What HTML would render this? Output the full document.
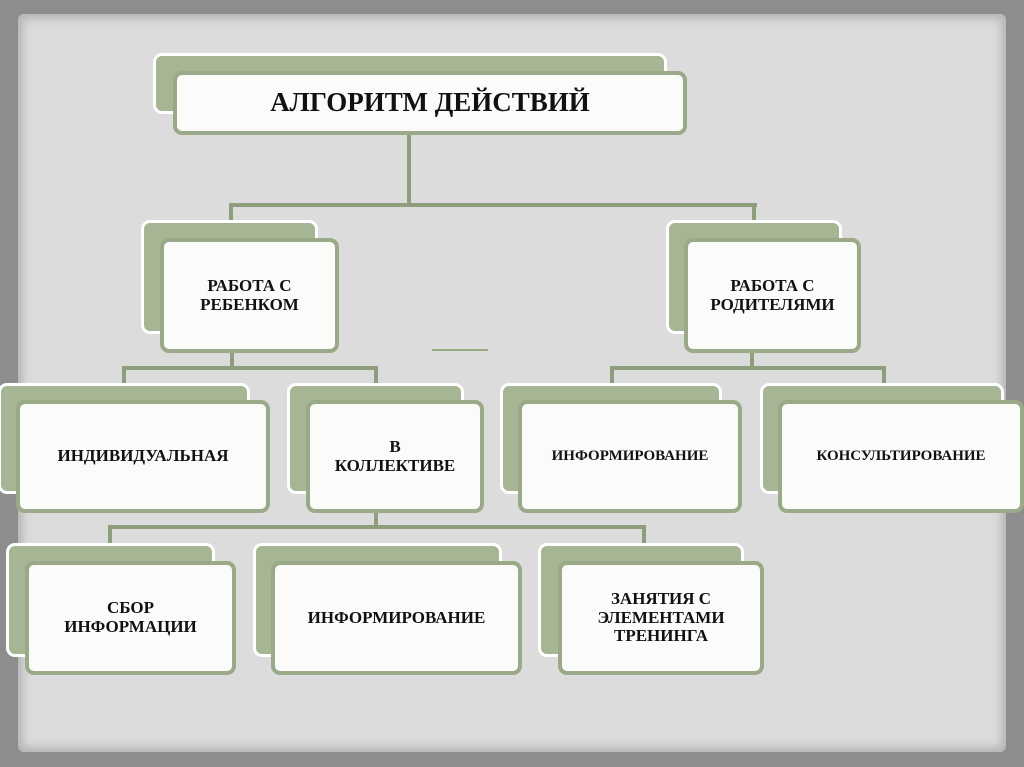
<!DOCTYPE html>
<html><head><meta charset="utf-8"><style>
body{margin:0;width:1024px;height:767px;overflow:hidden;background:#8d8d8d;position:relative;font-family:"Liberation Serif",serif}
.paper{position:absolute;left:18px;top:14px;width:988px;height:738px;background:#dcdcdc;border-radius:6px;box-shadow:0 0 10px 4px #b0b0b0 inset}
.b{position:absolute;background:#a6b593;border:3px solid #fff;border-radius:9px;box-sizing:border-box}
.f{position:absolute;background:#fbfcfa;border:4px solid #9aa988;border-radius:9px;box-sizing:border-box;display:flex;align-items:center;justify-content:center;text-align:center;font-weight:bold;color:#111;line-height:1.1}
.l{position:absolute;background:#8e9d7c}
</style></head><body>
<div class="paper"></div>
<!-- connectors -->
<div class="l" style="left:407px;top:134px;width:4px;height:72px"></div>
<div class="l" style="left:229px;top:203px;width:528px;height:4px"></div>
<div class="l" style="left:229px;top:203px;width:4px;height:20px"></div>
<div class="l" style="left:752px;top:203px;width:4px;height:20px"></div>
<div class="l" style="left:230px;top:350px;width:4px;height:18px"></div>
<div class="l" style="left:122px;top:366px;width:256px;height:4px"></div>
<div class="l" style="left:122px;top:366px;width:4px;height:20px"></div>
<div class="l" style="left:374px;top:366px;width:4px;height:20px"></div>
<div class="l" style="left:750px;top:350px;width:4px;height:18px"></div>
<div class="l" style="left:610px;top:366px;width:276px;height:4px"></div>
<div class="l" style="left:610px;top:366px;width:4px;height:20px"></div>
<div class="l" style="left:882px;top:366px;width:4px;height:20px"></div>
<div class="l" style="left:374px;top:510px;width:4px;height:18px"></div>
<div class="l" style="left:108px;top:525px;width:538px;height:4px"></div>
<div class="l" style="left:108px;top:525px;width:4px;height:21px"></div>
<div class="l" style="left:642px;top:525px;width:4px;height:21px"></div>
<div class="l" style="left:432px;top:349px;width:56px;height:2px;background:#9aa988"></div>

<div class="b" style="left:153px;top:53px;width:514px;height:61px"></div>
<div class="f" style="left:173px;top:71px;width:514px;height:64px;font-size:27px">АЛГОРИТМ ДЕЙСТВИЙ</div>

<div class="b" style="left:141px;top:220px;width:177px;height:114px"></div>
<div class="f" style="left:160px;top:238px;width:179px;height:115px;font-size:17px">РАБОТА С<br>РЕБЕНКОМ</div>
<div class="b" style="left:666px;top:220px;width:176px;height:114px"></div>
<div class="f" style="left:684px;top:238px;width:177px;height:115px;font-size:17px">РАБОТА С<br>РОДИТЕЛЯМИ</div>

<div class="b" style="left:-2px;top:383px;width:252px;height:111px"></div>
<div class="f" style="left:16px;top:400px;width:254px;height:113px;font-size:17px">ИНДИВИДУАЛЬНАЯ</div>
<div class="b" style="left:287px;top:383px;width:177px;height:111px"></div>
<div class="f" style="left:306px;top:400px;width:178px;height:113px;font-size:17px">В<br>КОЛЛЕКТИВЕ</div>
<div class="b" style="left:500px;top:383px;width:222px;height:111px"></div>
<div class="f" style="left:518px;top:400px;width:224px;height:113px;font-size:15px">ИНФОРМИРОВАНИЕ</div>
<div class="b" style="left:760px;top:383px;width:244px;height:111px"></div>
<div class="f" style="left:778px;top:400px;width:246px;height:113px;font-size:15px">КОНСУЛЬТИРОВАНИЕ</div>

<div class="b" style="left:6px;top:543px;width:209px;height:114px"></div>
<div class="f" style="left:25px;top:561px;width:211px;height:114px;font-size:17px">СБОР<br>ИНФОРМАЦИИ</div>
<div class="b" style="left:253px;top:543px;width:249px;height:114px"></div>
<div class="f" style="left:271px;top:561px;width:251px;height:114px;font-size:17px">ИНФОРМИРОВАНИЕ</div>
<div class="b" style="left:538px;top:543px;width:206px;height:114px"></div>
<div class="f" style="left:558px;top:561px;width:206px;height:114px;font-size:17px">ЗАНЯТИЯ С<br>ЭЛЕМЕНТАМИ<br>ТРЕНИНГА</div>
</body></html>
